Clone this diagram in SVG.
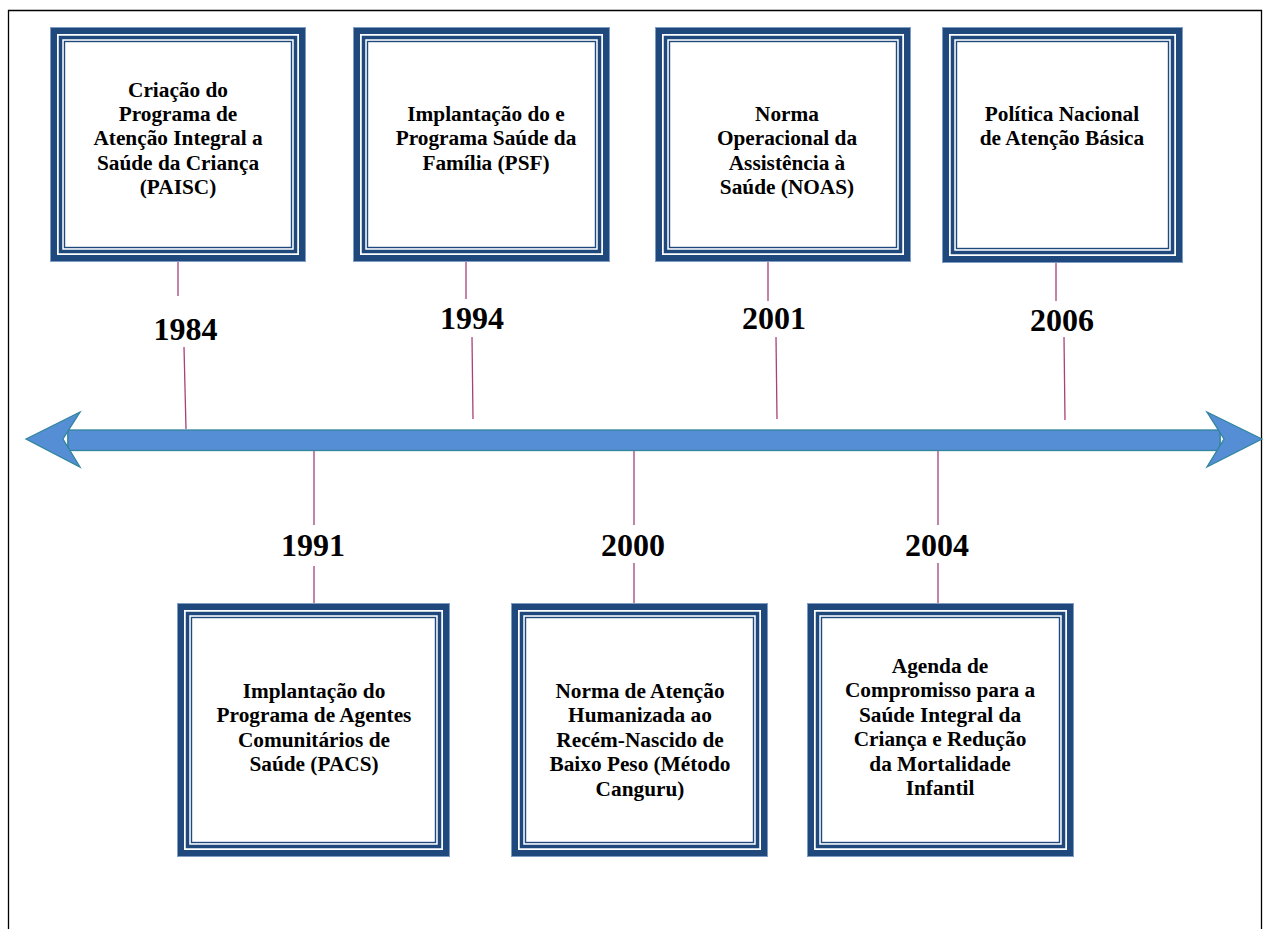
<svg xmlns="http://www.w3.org/2000/svg" width="1268" height="929" viewBox="0 0 1268 929">
<style>
.page{fill:none;stroke:#000;stroke-width:1.3}
.bg{fill:#fff}
.o{fill:none;stroke:#1f497d;stroke-width:6}
.ol{fill:none;stroke:#7f9cc4;stroke-width:1}
.m{fill:none;stroke:#1f497d;stroke-width:3.5}
.i{fill:none;stroke:#1f497d;stroke-width:1.4}
.t{font-family:"Liberation Serif","Times New Roman",serif;font-weight:bold;font-size:21.3px;fill:#000;text-anchor:middle}
.y{font-family:"Liberation Serif","Times New Roman",serif;font-weight:bold;font-size:32px;fill:#000;text-anchor:middle}
.c{stroke:#a8407a;stroke-width:1.3;fill:none}
.ar{fill:#558ed5;stroke:#31859c;stroke-width:1.3}
.end{fill:#fff;stroke:#31859c;stroke-width:1.3}
</style>
<rect width="1268" height="929" fill="#fff"/>
<path class="page" d="M8.5,929 V10.5 H1261.5 V929"/>

<g id="timeline">
<rect class="end" x="62" y="430" width="6" height="20"/>
<rect class="end" x="1220" y="431" width="6" height="18"/>
<rect class="ar" x="68" y="430" width="1152" height="20.5"/>
<polygon class="ar" points="26,439 80,412 63,439 80,467"/>
<polygon class="ar" points="1262,439 1207,412 1224,439 1207,467"/>
</g>

<g id="connectors">
<line class="c" x1="178" y1="262" x2="178" y2="296"/>
<line class="c" x1="184" y1="347" x2="186" y2="429"/>
<line class="c" x1="466" y1="262" x2="466" y2="299"/>
<line class="c" x1="472" y1="337" x2="473" y2="419"/>
<line class="c" x1="768" y1="262" x2="768" y2="301"/>
<line class="c" x1="776" y1="337" x2="777" y2="419"/>
<line class="c" x1="1056" y1="263" x2="1056" y2="301"/>
<line class="c" x1="1064" y1="337" x2="1065" y2="420"/>
<line class="c" x1="314" y1="451" x2="314" y2="525"/>
<line class="c" x1="314" y1="566" x2="314" y2="607"/>
<line class="c" x1="634" y1="451" x2="634" y2="525"/>
<line class="c" x1="634" y1="563" x2="634" y2="607"/>
<line class="c" x1="938" y1="451" x2="938" y2="525"/>
<line class="c" x1="938" y1="563" x2="938" y2="607"/>
</g>

<g id="years">
<text class="y" x="185.5" y="340">1984</text>
<text class="y" x="472" y="329">1994</text>
<text class="y" x="774" y="329">2001</text>
<text class="y" x="1062" y="331">2006</text>
<text class="y" x="313" y="556">1991</text>
<text class="y" x="633" y="556">2000</text>
<text class="y" x="937" y="556">2004</text>
</g>

<g id="n1984">
<rect class="bg" x="50" y="27" width="256" height="235"/>
<rect class="ol" x="50.5" y="27.5" width="255" height="234"/>
<rect class="o" x="54" y="31" width="248" height="227"/>
<rect class="m" x="60.5" y="37.5" width="235" height="214"/>
<rect class="i" x="64.5" y="41.5" width="227" height="206"/>
<text class="t" x="178" y="96.5">Criação do</text>
<text class="t" x="178" y="120.9">Programa de</text>
<text class="t" x="178" y="145.3">Atenção Integral a</text>
<text class="t" x="178" y="169.7">Saúde da Criança</text>
<text class="t" x="178" y="194.1">(PAISC)</text>
</g>

<g id="n1994">
<rect class="bg" x="353" y="27" width="257" height="235"/>
<rect class="ol" x="353.5" y="27.5" width="256" height="234"/>
<rect class="o" x="357" y="31" width="249" height="227"/>
<rect class="m" x="363.5" y="37.5" width="236" height="214"/>
<rect class="i" x="367.5" y="41.5" width="228" height="206"/>
<text class="t" x="486" y="121">Implantação do e</text>
<text class="t" x="486" y="145.4">Programa Saúde da</text>
<text class="t" x="486" y="169.8">Família (PSF)</text>
</g>

<g id="n2001">
<rect class="bg" x="655" y="27" width="256" height="235"/>
<rect class="ol" x="655.5" y="27.5" width="255" height="234"/>
<rect class="o" x="659" y="31" width="248" height="227"/>
<rect class="m" x="665.5" y="37.5" width="235" height="214"/>
<rect class="i" x="669.5" y="41.5" width="227" height="206"/>
<text class="t" x="787" y="121">Norma</text>
<text class="t" x="787" y="145.4">Operacional da</text>
<text class="t" x="787" y="169.8">Assistência à</text>
<text class="t" x="787" y="194.2">Saúde (NOAS)</text>
</g>

<g id="n2006">
<rect class="bg" x="942" y="27" width="241" height="236"/>
<rect class="ol" x="942.5" y="27.5" width="240" height="235"/>
<rect class="o" x="946" y="31" width="233" height="228"/>
<rect class="m" x="952.5" y="37.5" width="220" height="215"/>
<rect class="i" x="956.5" y="41.5" width="212" height="207"/>
<text class="t" x="1062" y="121">Política Nacional</text>
<text class="t" x="1062" y="145.4">de Atenção Básica</text>
</g>

<g id="n1991">
<rect class="bg" x="177" y="603" width="273" height="254"/>
<rect class="ol" x="177.5" y="603.5" width="272" height="253"/>
<rect class="o" x="181" y="607" width="265" height="246"/>
<rect class="m" x="187.5" y="613.5" width="252" height="233"/>
<rect class="i" x="191.5" y="617.5" width="244" height="225"/>
<text class="t" x="314" y="698">Implantação do</text>
<text class="t" x="314" y="722.4">Programa de Agentes</text>
<text class="t" x="314" y="746.8">Comunitários de</text>
<text class="t" x="314" y="771.2">Saúde (PACS)</text>
</g>

<g id="n2000">
<rect class="bg" x="511" y="603" width="257" height="254"/>
<rect class="ol" x="511.5" y="603.5" width="256" height="253"/>
<rect class="o" x="515" y="607" width="249" height="246"/>
<rect class="m" x="521.5" y="613.5" width="236" height="233"/>
<rect class="i" x="525.5" y="617.5" width="228" height="225"/>
<text class="t" x="640" y="698">Norma de Atenção</text>
<text class="t" x="640" y="722.4">Humanizada ao</text>
<text class="t" x="640" y="746.8">Recém-Nascido de</text>
<text class="t" x="640" y="771.2">Baixo Peso (Método</text>
<text class="t" x="640" y="795.6">Canguru)</text>
</g>

<g id="n2004">
<rect class="bg" x="807" y="603" width="267" height="254"/>
<rect class="ol" x="807.5" y="603.5" width="266" height="253"/>
<rect class="o" x="811" y="607" width="259" height="246"/>
<rect class="m" x="817.5" y="613.5" width="246" height="233"/>
<rect class="i" x="821.5" y="617.5" width="238" height="225"/>
<text class="t" x="940" y="673">Agenda de</text>
<text class="t" x="940" y="697.4">Compromisso para a</text>
<text class="t" x="940" y="721.8">Saúde Integral da</text>
<text class="t" x="940" y="746.2">Criança e Redução</text>
<text class="t" x="940" y="770.6">da Mortalidade</text>
<text class="t" x="940" y="795">Infantil</text>
</g>
</svg>
